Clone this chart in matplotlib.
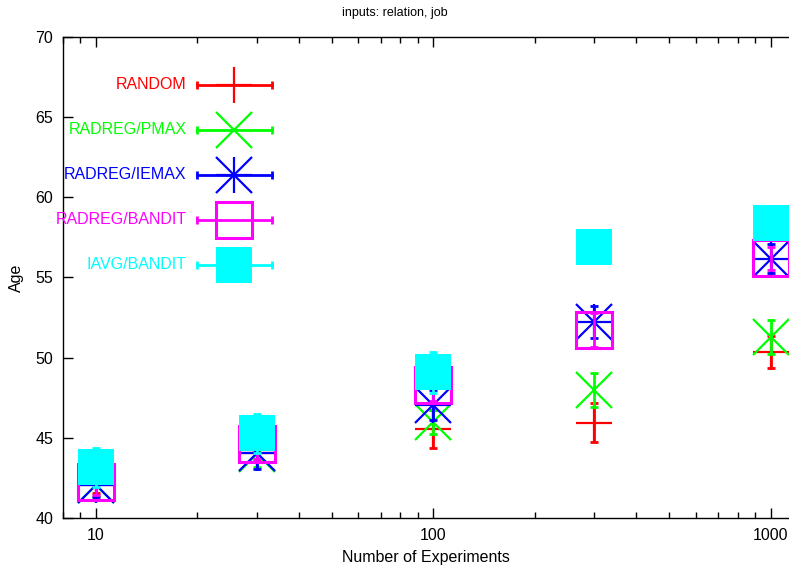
import numpy as np
import matplotlib.pyplot as plt
from matplotlib.ticker import LogLocator, NullFormatter, FixedLocator

plt.rcParams['font.family'] = ['Liberation Sans', 'DejaVu Sans']

experiments = [10, 30, 100, 300, 1000]

random_mean = [42.08, 44.03, 45.54, 45.94, 50.35]
random_err = [0.5, 0.5, 1.19, 1.2, 1.0]

pmax_mean = [42.05, 43.97, 46.0, 47.98, 51.3]
pmax_err = [0.7, 0.8, 0.75, 1.04, 1.05]

iemax_mean = [42.08, 44.03, 47.04, 52.21, 56.15]
iemax_err = [0.75, 1.0, 0.95, 1.0, 0.9]

bandit_mean = [42.26, 44.6, 48.29, 51.72, 56.18]
bandit_err = [0.8, 0.9, 1.0, 1.04, 0.73]

iavg_mean = [43.16, 45.28, 49.07, 56.92, 58.37]
iavg_err = [1.2, 1.2, 1.3, 0.9, 0.9]

series = [
    ('RANDOM', random_mean, random_err, '#ff0000', '+'),
    ('RADREG/PMAX', pmax_mean, pmax_err, '#00ff00', 'x'),
    ('RADREG/IEMAX', iemax_mean, iemax_err, '#0000ff', '*'),
    ('RADREG/BANDIT', bandit_mean, bandit_err, '#ff00ff', 's'),
    ('IAVG/BANDIT', iavg_mean, iavg_err, '#00ffff', 'S'),
]

fig = plt.figure(figsize=(7.89, 5.67), dpi=100)
ax = fig.add_axes([63 / 789, 49 / 567, 726 / 789, 481.3 / 567])

ms = 26.4
lw = 1.6
fs = 11.5


def draw_marker(xs, ys, color, kind, **kw):
    # gnuplot-style point types
    if kind == '*':
        ax.plot(xs, ys, '+', color=color, ms=ms, mew=lw, ls='none', **kw)
        ax.plot(xs, ys, 'x', color=color, ms=ms, mew=lw, ls='none', **kw)
    elif kind == 's':
        ax.plot(xs, ys, 's', mec=color, mfc='none', ms=ms, mew=2.2, ls='none', **kw)
    elif kind == 'S':
        ax.plot(xs, ys, 's', mec=color, mfc=color, ms=ms, mew=0, ls='none', **kw)
    else:
        ax.plot(xs, ys, kind, color=color, ms=ms, mew=lw, ls='none', **kw)


for label, mean, err, color, kind in series:
    ax.errorbar(experiments, mean, yerr=err, fmt='none', ecolor=color,
                elinewidth=lw + 0.4, capsize=3, capthick=lw + 0.4)
    draw_marker(experiments, mean, color, kind)

# key in the upper left
key_text_x = 0.1704
key_x0, key_x1, key_xm = 0.184, 0.2875, 0.2355
key_y0, key_dy = 0.8997, 0.0935
for i, (label, mean, err, color, kind) in enumerate(series):
    ky = key_y0 - i * key_dy
    ax.text(key_text_x, ky, label, transform=ax.transAxes, ha='right',
            va='center', color=color, fontsize=fs)
    ax.plot([key_x0, key_x1], [ky, ky], color=color, lw=lw + 0.4,
            transform=ax.transAxes)
    ax.plot([key_x0, key_x1], [ky, ky], '|', color=color, ms=6, mew=lw + 0.4,
            transform=ax.transAxes)
    draw_marker([key_xm], [ky], color, kind, transform=ax.transAxes)

ax.set_xscale('log')
ax.set_xlim(8, 1133)
ax.set_ylim(40, 70)
ax.xaxis.set_major_locator(FixedLocator([10, 100, 1000]))
ax.set_xticklabels(['10', '100', '1000'])
ax.xaxis.set_minor_locator(LogLocator(base=10, subs=np.arange(2, 10)))
ax.xaxis.set_minor_formatter(NullFormatter())
ax.set_yticks(np.arange(40, 71, 5))

ax.tick_params(which='both', direction='in', top=True, right=False,
               labelsize=fs, width=1, colors='black')
ax.tick_params(which='major', length=7, pad=7)
ax.tick_params(which='minor', length=4)
ax.spines['right'].set_visible(False)
for s in ['left', 'bottom', 'top']:
    ax.spines[s].set_linewidth(1)

ax.set_xlabel('Number of Experiments', fontsize=fs, labelpad=5)
ax.set_ylabel('Age', fontsize=fs, labelpad=8)
fig.text(0.5, 1 - 13 / 567, 'inputs: relation, job',
         ha='center', va='center', fontsize=9)

fig.savefig('out.png', dpi=100)
